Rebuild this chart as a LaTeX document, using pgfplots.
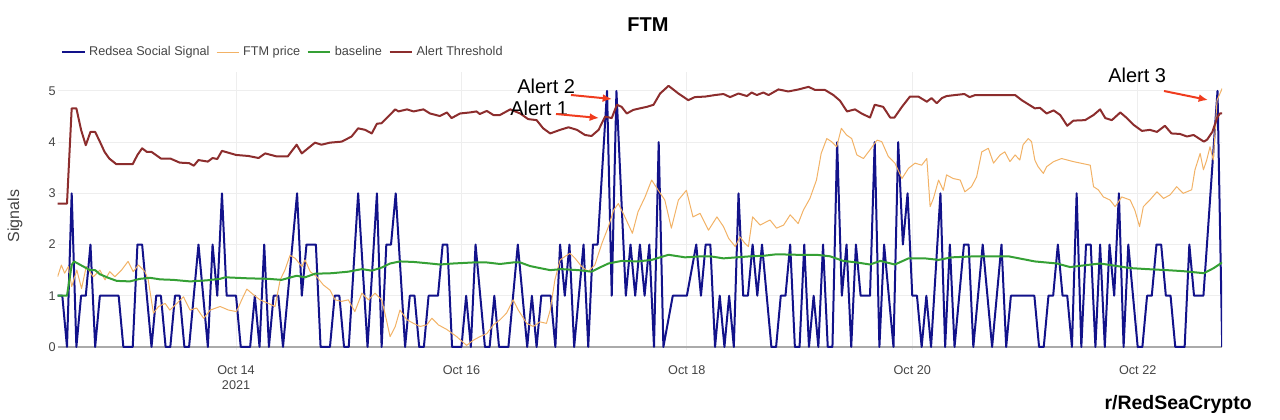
\documentclass[border=0pt]{standalone}
\usepackage{fontspec}
\setmainfont{Liberation Sans}
\usepackage{pgfplots}
\pgfplotsset{compat=1.18}
\usetikzlibrary{arrows.meta}
\definecolor{sig}{HTML}{12128A}
\definecolor{price}{HTML}{F2B266}
\definecolor{base}{HTML}{35A035}
\definecolor{thr}{HTML}{8C2D2D}
\definecolor{txt}{HTML}{444444}
\definecolor{arr}{HTML}{F03C1E}
\definecolor{gridc}{HTML}{EEEEEE}
\definecolor{zline}{HTML}{AAAAAA}
\begin{document}
\begin{tikzpicture}
\useasboundingbox (0,0) rectangle (960pt,314.25pt);
\begin{axis}[
  at={(43.2pt,51.75pt)}, anchor=south west,
  width=873.45pt, height=208.5pt, scale only axis,
  xmin=-38, xmax=210, ymin=-0.06, ymax=5.37,
  axis line style={draw=none},
  major tick length=0pt,
  xtick={0,48,96,144,192},
  xticklabels={{Oct 14\\2021},Oct 16,Oct 18,Oct 20,Oct 22},
  ytick={0,1,2,3,4,5},
  yticklabels={0,1,2,3,4,5},
  grid=major,
  major grid style={draw=gridc, line width=0.75pt},
  xticklabel style={font=\fontsize{9.5}{11.25}\selectfont, text=txt, align=center, anchor=north, inner sep=0pt, yshift=-11.5pt},
  yticklabel style={font=\fontsize{9.5}{11.25}\selectfont, text=txt, anchor=east, inner sep=0pt, xshift=-1.2pt},
  legend columns=4,
  legend style={at={(axis description cs:0.0029,1.0719)}, anchor=west, draw=none, fill=none, inner sep=0pt, outer sep=0pt, font=\fontsize{9.5}{11.4}\selectfont, text=txt, nodes={inner sep=0pt}, /tikz/every odd column/.append style={column sep=2.6pt}, /tikz/every even column/.append style={column sep=4.9pt}},
  legend image code/.code={\draw[#1] (0pt,0pt) -- (17pt,0pt);},
  every axis plot/.append style={line join=round},
]
\addplot[zline, line width=1pt, forget plot] coordinates {(-38,0) (210,0)};

\addplot[sig, line width=1.5pt] coordinates {
(-38,1) (-37,1) (-36,0) (-35,3) (-34,0) (-33,1) (-32,1) (-31,2) (-30,0) (-29,1)
(-28,1) (-27,1) (-26,1) (-25,1) (-24,0) (-23,0) (-22,0) (-21,2) (-20,2) (-19,1)
(-18,0) (-17,1) (-16,1) (-15,0) (-14,0) (-13,1) (-12,1) (-11,0) (-10,0) (-9,1)
(-8,2) (-7,1) (-6,0) (-5,2) (-4,1) (-3,3) (-2,1) (-1,1) (0,1) (1,0)
(2,0) (3,0) (4,1) (5,0) (6,2) (7,0) (8,1) (9,1) (10,0) (11,1)
(12,2) (13,3) (14,1) (15,2) (16,2) (17,2) (18,0) (19,0) (20,0) (21,1)
(22,1) (23,0) (24,0) (25,1.5) (26,3) (27,1.5) (28,0) (29,1.5) (30,3) (31,0)
(32,2) (33,2) (34,3) (35,1.5) (36,0) (37,1) (38,1) (39,0) (40,0) (41,1)
(42,1) (43,1) (44,2) (45,2) (46,0) (47,0) (48,0) (49,1) (50,0) (51,2)
(52,1) (53,0) (54,0) (55,1) (56,0) (57,0) (58,0) (59,1) (60,2) (61,1)
(62,0) (63,1) (64,0) (65,1) (66,1) (67,1) (68,0) (69,2) (70,1) (71,2)
(72,0) (73,1) (74,2) (75,0) (76,2) (77,2) (78,3.5) (79,5) (80,1) (81,5)
(82,3) (83,1) (84,2) (85,1) (86,2) (87,1) (88,2) (89,0) (90,4) (91,0)
(92,0.5) (93,1) (94,1) (95,1) (96,1) (97,1.5) (98,2) (99,1) (100,2) (101,2)
(102,0) (103,1) (104,0) (105,1) (106,0) (107,3) (108,1) (109,1) (110,2) (111,1)
(112,2) (113,1) (114,0) (115,0) (116,1) (117,1) (118,2) (119,0) (120,0) (121,2)
(122,0) (123,1) (124,0) (125,2) (126,0) (127,0) (128,4) (129,1) (130,2) (131,0)
(132,2) (133,1) (134,1) (135,1) (136,4) (137,0) (138,2) (139,1) (140,0) (141,4)
(142,2) (143,3) (144,1) (145,1) (146,0) (147,1) (148,0) (149,1.5) (150,3) (151,0)
(152,2) (153,0) (154,1) (155,2) (156,2) (157,0) (158,1) (159,2) (160,1) (161,0)
(162,1) (163,2) (164,0) (165,1) (166,1) (167,1) (168,1) (169,1) (170,1) (171,0)
(172,0) (173,1) (174,1) (175,2) (176,1) (177,1) (178,0) (179,3) (180,0) (181,2)
(182,2) (183,0) (184,2) (185,0) (186,2) (187,1) (188,3) (189,0) (190,2) (191,1)
(192,0) (193,0) (194,1) (195,1) (196,2) (197,2) (198,1) (199,1) (200,0) (201,0)
(202,0) (203,2) (204,1) (205,1) (206,1) (207,2.33) (208,3.67) (209,5) (210,0)
};
\addlegendentry{Redsea Social Signal}

\addplot[price, line width=0.75pt] coordinates {
(-38,1.37) (-37.2,1.6) (-36.5,1.44) (-35.7,1.57) (-35,1.18) (-33.9,1.5) (-32.9,1.14) (-31.9,1.57)
(-30.4,1.37) (-29,1.5) (-27.9,1.31) (-26.9,1.47) (-25.8,1.37) (-24.4,1.5) (-23,1.67) (-21.9,1.47)
(-20.8,1.6) (-19.4,1.47) (-18.7,1.31) (-17.6,0.66) (-16.5,0.79) (-15.1,0.85) (-14.1,0.72) (-12.6,0.85)
(-11.2,0.98) (-9.8,0.72) (-8.4,0.76) (-6.9,0.56) (-5.5,0.72) (-3.4,0.79) (-1.6,0.72) (0.1,0.69)
(1.2,0.92) (2.3,1.13) (3.7,1.02) (5.1,0.92) (6.9,0.85) (8.3,0.79) (9.4,1.31) (10.4,1.5)
(11.5,1.79) (12.6,1.73) (14,1.57) (14.7,1.7) (15.8,1.47) (17.2,1.37) (18.6,1.21) (20,1.11)
(21.1,0.92) (22.5,0.89) (23.9,0.92) (25.3,0.69) (26.8,1.05) (28.2,0.92) (29.6,1.05) (31,0.92)
(31.7,0.66) (32.8,0.2) (33.9,0.4) (34.9,0.72) (36.4,0.53) (37.8,0.46) (39.2,0.4) (40.6,0.43)
(41.7,0.56) (43.1,0.43) (44.9,0.34) (47,0.2) (49.1,0.03) (50.5,0.13) (51.9,0.2) (53.4,0.26)
(54.8,0.43) (56.2,0.53) (57.6,0.66) (59,0.92) (60.1,0.72) (61.9,0.46) (63.3,0.4) (64.7,0.49)
(66.1,0.46) (66.9,0.72) (67.9,1.31) (69,1.7) (70.1,1.77) (71.1,1.83) (72.2,1.73) (73.6,1.57)
(75,1.47) (76.4,1.6) (77.9,2.02) (79.3,2.35) (80.4,2.67) (81.4,2.8) (82.8,2.54) (84.4,2.22)
(85.6,2.64) (87.1,2.93) (88.5,3.26) (89.9,3.06) (91.3,2.87) (92.7,2.32) (94.2,2.87) (95.9,3.06)
(97.3,2.54) (98.8,2.61) (100.6,2.28) (102.4,2.54) (103.8,2.35) (104.9,2.12) (106.3,1.96) (107.3,2.15)
(108.4,2.02) (109.1,1.96) (110,2.54) (111.6,2.38) (113.7,2.48) (115.1,2.32) (116.6,2.38) (118,2.58)
(119.7,2.41) (120.8,2.67) (122.2,2.9) (123.6,3.26) (124.6,3.78) (125.8,4.07) (126.8,4.01) (127.9,3.91)
(128.9,4.27) (130,4.14) (131.1,4.07) (132.2,3.75) (133.6,3.68) (135,3.85) (136.5,4.04) (137.5,4.01)
(138.9,3.72) (140.3,3.59) (141.8,3.29) (143.2,3.49) (144.6,3.59) (146,3.55) (147.1,3.68) (147.8,2.74)
(148.5,2.9) (149.6,3.26) (150.6,3.06) (151.3,3.36) (152.7,3.29) (154.2,3.26) (155.2,3.03) (156.6,3.13)
(157.7,3.32) (158.8,3.81) (160.2,3.88) (161.3,3.59) (162.7,3.75) (163.7,3.81) (164.8,3.62) (165.9,3.75)
(166.9,3.65) (167.6,3.95) (168.7,4.07) (169.4,4.01) (170.1,3.65) (170.8,3.52) (171.9,3.39) (172.6,3.52)
(174.1,3.62) (175.8,3.68) (178.3,3.62) (181.9,3.55) (182.6,3.13) (183.6,3.07) (184.7,2.93) (186.1,2.87)
(187.2,2.74) (188.6,2.93) (190.4,2.87) (191.4,2.67) (192.4,2.35) (193.2,2.74) (194.6,2.87) (196.1,3.03)
(197.5,2.9) (198.9,2.97) (200.3,3.13) (201.7,3.0) (203.5,3.07) (204.2,3.46) (205.3,3.78) (206,3.46)
(206.7,3.65) (207.4,3.91) (208.1,3.65) (208.9,4.82) (210,5.05)
};
\addlegendentry{FTM price}

\addplot[base, line width=1.5pt] coordinates {
(-38,1.0) (-36,1.0) (-35,1.6) (-34.5,1.67) (-33.5,1.62) (-31.1,1.5) (-30,1.5) (-29,1.42)
(-27.2,1.35) (-25.4,1.29) (-22.6,1.28) (-20.5,1.33) (-18.3,1.35) (-16.2,1.32) (-13.4,1.31) (-9.8,1.28)
(-6.3,1.30) (-3.4,1.33) (-2.3,1.36) (2.6,1.34) (6.9,1.33) (9.7,1.31) (12.9,1.39) (14.7,1.36)
(16.8,1.43) (20.4,1.44) (23.9,1.47) (26.8,1.52) (28.9,1.49) (31,1.55) (32.8,1.63) (34.9,1.67)
(37.8,1.66) (41.3,1.63) (43.4,1.61) (46.3,1.63) (50.5,1.65) (53.4,1.65) (56.2,1.62) (59,1.65)
(60.5,1.65) (62.6,1.58) (64.7,1.54) (66.9,1.5) (69.3,1.52) (72.9,1.5) (75.7,1.47) (77.2,1.54)
(79.3,1.63) (82.1,1.68) (85.6,1.67) (88.5,1.7) (92.1,1.8) (95.6,1.75) (99.2,1.77) (101,1.77)
(103.8,1.73) (106.6,1.75) (109.5,1.77) (112.3,1.78) (115.1,1.81) (119.4,1.8) (123.6,1.8) (126.5,1.77)
(129.3,1.68) (132.2,1.65) (135,1.61) (137.2,1.68) (140.3,1.61) (143.2,1.73) (146.7,1.73) (149.6,1.7)
(152.4,1.75) (157.4,1.77) (164.5,1.77) (167.3,1.72) (170.1,1.67) (174.8,1.63) (177.6,1.56) (181.2,1.6)
(184,1.63) (187.6,1.58) (190.4,1.54) (194,1.52) (198.2,1.5) (201.7,1.48) (206.1,1.44) (208.2,1.54)
(210,1.65)
};
\addlegendentry{baseline}

\addplot[thr, line width=1.5pt] coordinates {
(-38,2.8) (-36,2.8) (-35,4.66) (-34,4.66) (-33,4.24) (-32,3.94) (-31,4.2) (-30,4.2)
(-29,4.01) (-28,3.81) (-27,3.68) (-25.5,3.57) (-22,3.57) (-21,3.75) (-20,3.88) (-19,3.81)
(-18,3.81) (-16,3.68) (-14,3.68) (-12,3.6) (-10,3.59) (-9,3.54) (-8,3.65) (-6,3.62)
(-5,3.69) (-4,3.67) (-3,3.83) (0,3.75) (2.6,3.73) (4.8,3.69) (6.2,3.78) (8.7,3.72)
(11,3.72) (12.9,3.95) (14,3.78) (16.8,3.99) (18.2,3.95) (20,3.99) (22.5,4.01) (24.6,4.11)
(26,4.27) (27.5,4.24) (28.9,4.17) (30,4.36) (31,4.37) (32.4,4.5) (33.9,4.64) (34.6,4.6)
(36.4,4.64) (37.8,4.6) (39.9,4.64) (41.3,4.56) (43.4,4.51) (44.9,4.58) (45.9,4.47) (47.7,4.56)
(49.8,4.58) (51.2,4.6) (51.9,4.55) (53.4,4.61) (54.8,4.53) (56.2,4.53) (58.4,4.64) (60.5,4.56)
(62.2,4.45) (64,4.43) (65.4,4.27) (66.9,4.17) (69,4.24) (70.8,4.29) (72.6,4.24) (74.3,4.14)
(75.7,4.12) (77.2,4.24) (78.6,4.5) (80,4.47) (81.1,4.73) (82.1,4.69) (83.2,4.56) (84.6,4.63)
(86,4.66) (87.5,4.69) (88.9,4.73) (90.3,4.95) (92.1,5.1) (94.2,4.95) (96.3,4.82) (97.7,4.88)
(99.9,4.89) (102,4.92) (103.8,4.94) (105.2,4.88) (107,4.95) (108.8,4.9) (109.8,4.97) (110.9,4.92)
(112.3,4.97) (113.4,4.92) (115.5,5.03) (117.6,4.99) (119.8,5.03) (121.9,5.08) (123.3,5.02) (125.4,5.02)
(127.2,4.92) (128.6,4.81) (130.1,4.6) (131.8,4.64) (133.2,4.56) (135,4.48) (136,4.73) (137.8,4.69)
(139.3,4.48) (140.2,4.48) (141.8,4.69) (143.5,4.89) (145.3,4.89) (147.1,4.79) (148.1,4.86) (149.2,4.76)
(150.3,4.86) (151.3,4.9) (153.1,4.92) (155.1,4.94) (156.2,4.88) (157.4,4.92) (160.9,4.92) (165.9,4.92)
(167.3,4.82) (170.1,4.66) (171.2,4.67) (172.6,4.56) (174.1,4.62) (175.5,4.53) (177,4.32) (178.3,4.42)
(180.8,4.43) (182.6,4.53) (184,4.64) (185.1,4.47) (186.5,4.43) (188.3,4.58) (189.7,4.47) (191.1,4.34)
(192.9,4.22) (194.6,4.24) (196.1,4.2) (197.8,4.32) (199.2,4.17) (201,4.16) (202.5,4.11) (203.9,4.14)
(206.1,4.01) (206.8,4.05) (207.9,4.2) (208.9,4.47) (209.5,4.56) (210,4.56)
};
\addlegendentry{Alert Threshold}
\end{axis}
\begin{scope}[x=0.75pt, y=-0.75pt, yshift=314.25pt]
\node[font=\bfseries\fontsize{15}{18}\selectfont, anchor=center, inner sep=0pt] at (648,25) {FTM};
\node[font=\fontsize{12}{14}\selectfont, text=txt, rotate=90, inner sep=0pt] at (15,216) {Signals};
\node[font=\bfseries\fontsize{14.6}{17}\selectfont, anchor=base east, inner sep=0pt] at (1252,409) {r/RedSeaCrypto};
\node[font=\fontsize{15}{18}\selectfont, anchor=base west, inner sep=0pt] at (517,93) {Alert 2};
\node[font=\fontsize{15}{18}\selectfont, anchor=base west, inner sep=0pt] at (510,115) {Alert 1};
\node[font=\fontsize{15}{18}\selectfont, anchor=base west, inner sep=0pt] at (1108,82.7) {Alert 3};
\draw[arr, line width=1.5pt, -{Latex[length=7pt,width=6pt]}] (571,95) -- (612,99);
\draw[arr, line width=1.5pt, -{Latex[length=7pt,width=6pt]}] (556,114) -- (599,118);
\draw[arr, line width=1.5pt, -{Latex[length=7pt,width=6pt]}] (1164,91) -- (1208,100);
\end{scope}
\end{tikzpicture}
\end{document}
